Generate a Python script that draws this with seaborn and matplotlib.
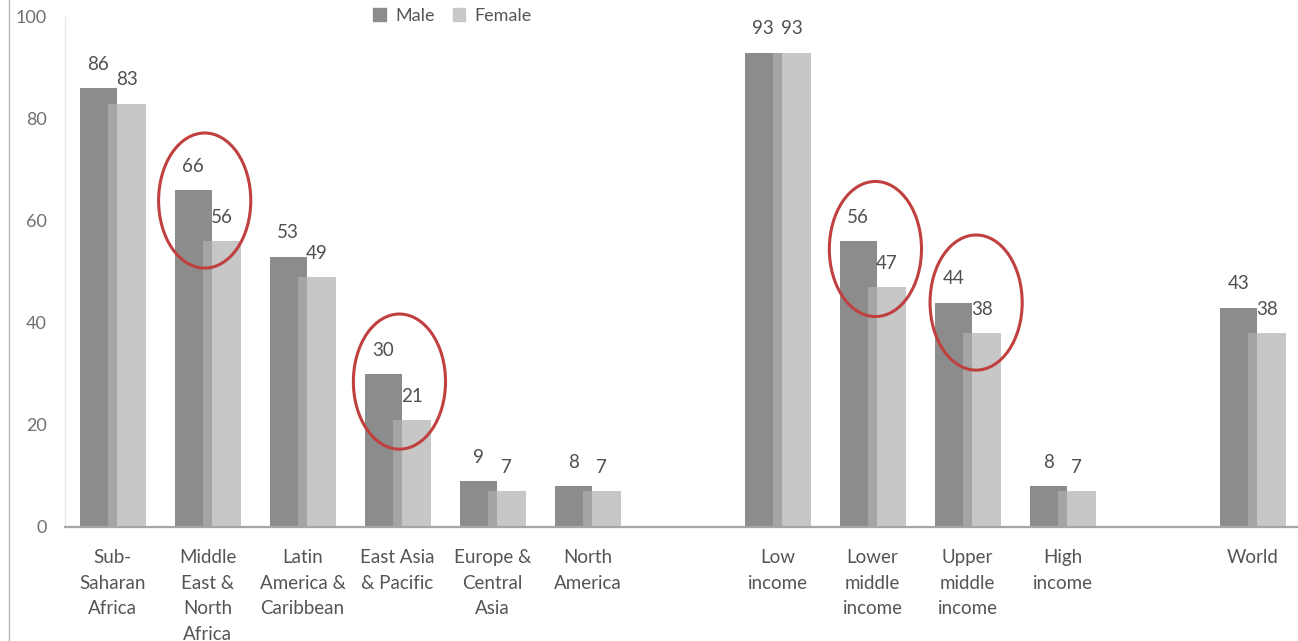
import pandas as pd
import matplotlib.pyplot as plt
import seaborn as sns
from matplotlib.patches import Ellipse
from matplotlib.lines import Line2D

# data
categories = ["Sub-\nSaharan\nAfrica", "Middle\nEast &\nNorth\nAfrica", "Latin\nAmerica &\nCaribbean",
              "East Asia\n& Pacific", "Europe &\nCentral\nAsia", "North\nAmerica",
              "Low\nincome", "Lower\nmiddle\nincome", "Upper\nmiddle\nincome", "High\nincome", "World"]
male = [86, 66, 53, 30, 9, 8, 93, 56, 44, 8, 43]
female = [83, 56, 49, 21, 7, 7, 93, 47, 38, 7, 38]
# empty slots separate regions / income groups / world
order = categories[:6] + [" "] + categories[6:10] + ["  "] + categories[10:]
circled = ["Middle\nEast &\nNorth\nAfrica", "East Asia\n& Pacific",
           "Lower\nmiddle\nincome", "Upper\nmiddle\nincome"]
circle_shift = [-0.03, 0.02, 0.03, 0.09]

df = pd.DataFrame({
    "cat": categories * 2,
    "value": male + female,
    "sex": ["Male"] * len(male) + ["Female"] * len(female),
})

sns.set_style("white")
plt.rcParams['font.family'] = ['Lato', 'DejaVu Sans']

fig = plt.figure(figsize=(12.98, 6.41), dpi=100)
ax = fig.add_axes([0.0501, 0.178, 0.9515, 0.7955])

sns.barplot(data=df, x="cat", y="value", hue="sex", order=order,
            hue_order=["Male", "Female"], palette={"Male": "#8c8c8c", "Female": "#b0b0b0"},
            width=0.6, dodge=True, saturation=1, errorbar=None, ax=ax, legend=False)

# widen bars so the female bar overlaps the male one
for i, cont in enumerate(ax.containers):
    for p in cont:
        c = p.get_x() + p.get_width() / 2
        p.set_width(0.395)
        p.set_x(c - 0.1975)
        p.set_edgecolor("none")
        if i == 1:
            p.set_alpha(0.7)
    ax.bar_label(cont, fmt="%.0f", padding=11, fontsize=13.5, color="#505050")

# red ellipses
for name, dx in zip(circled, circle_shift):
    i = order.index(name)
    j = categories.index(name)
    cy = (male[j] + female[j]) / 2 + 3
    ax.add_patch(Ellipse((i + dx, cy), 0.97, 26.5, fill=False,
                         edgecolor="#c0403f", lw=2.2, zorder=5))

ax.set_xlim(-0.5, 12.5)
ax.set_ylim(0, 100)
ax.set_yticks(range(0, 101, 20))
ax.set_xlabel("")
ax.set_ylabel("")
ax.tick_params(axis="y", labelsize=13, labelcolor="#6f6f6f", pad=13, length=0)
ax.tick_params(axis="x", labelsize=13.5, labelcolor="#555555", pad=16, length=0)
for t in ax.get_xticklabels():
    t.set_linespacing(1.62)
    t.set_verticalalignment("top")

for s in ["top", "right"]:
    ax.spines[s].set_visible(False)
ax.spines["left"].set_color("#e6e6e6")
ax.spines["left"].set_linewidth(1)
ax.spines["bottom"].set_color("#a6a6a6")
ax.spines["bottom"].set_linewidth(1.6)

handles = [plt.Rectangle((0, 0), 1, 1, color="#8c8c8c"),
           plt.Rectangle((0, 0), 1, 1, color="#c8c8c8")]
fig.legend(handles, ["Male", "Female"], loc="center", bbox_to_anchor=(0.3486, 0.975),
           ncol=2, frameon=False, fontsize=13, handlelength=0.7, handleheight=0.7,
           handletextpad=0.5, columnspacing=1.0, labelcolor="#555555")

# thin border line at the left edge
fig.add_artist(Line2D([0.0066, 0.0066], [0, 1], transform=fig.transFigure,
                      color="#b4b4b4", lw=1))

fig.savefig("out.png", dpi=100)
